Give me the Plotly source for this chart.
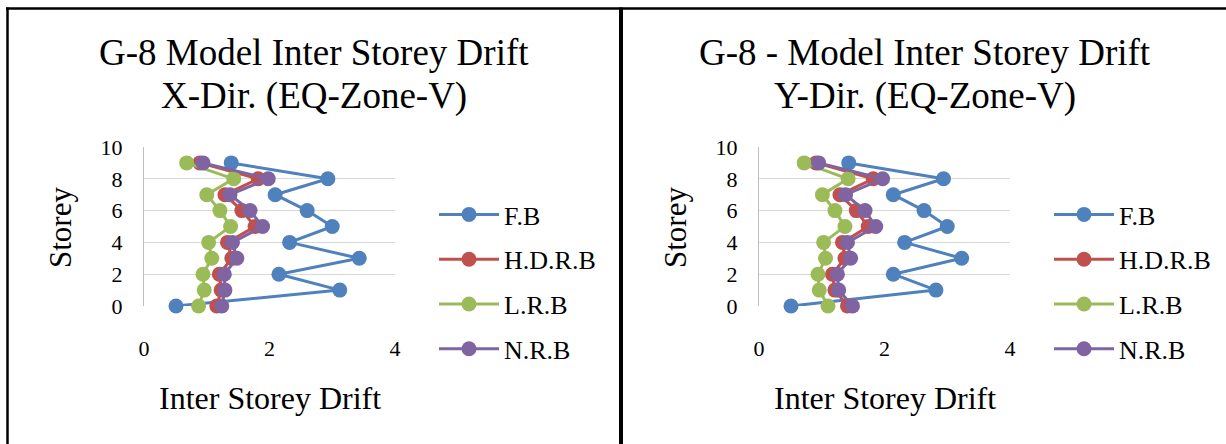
import plotly.graph_objects as go
from plotly.subplots import make_subplots

storeys = [0, 1, 2, 3, 4, 5, 6, 7, 8, 9]
series_names = ["F.B", "H.D.R.B", "L.R.B", "N.R.B"]
colors = ["#4F81BD", "#C0504D", "#9BBB59", "#8064A2"]

# X-direction drift (left chart)
x_fb = [0.51, 3.12, 2.15, 3.43, 2.32, 3.00, 2.60, 2.09, 2.93, 1.39]
x_hdrb = [1.16, 1.23, 1.20, 1.40, 1.33, 1.77, 1.56, 1.29, 1.82, 0.89]
x_lrb = [0.87, 0.96, 0.94, 1.08, 1.03, 1.38, 1.21, 1.00, 1.43, 0.68]
x_nrb = [1.24, 1.29, 1.28, 1.48, 1.41, 1.89, 1.69, 1.37, 1.98, 0.94]

# Y-direction drift (right chart)
y_fb = [0.51, 2.82, 2.14, 3.23, 2.32, 3.00, 2.63, 2.14, 2.94, 1.43]
y_hdrb = [1.41, 1.21, 1.17, 1.37, 1.33, 1.74, 1.55, 1.29, 1.82, 0.91]
y_lrb = [1.10, 0.96, 0.94, 1.06, 1.03, 1.37, 1.21, 1.01, 1.42, 0.72]
y_nrb = [1.49, 1.27, 1.25, 1.46, 1.41, 1.86, 1.69, 1.38, 1.97, 0.95]

titles_line1 = ["G-8 Model Inter Storey Drift", "G-8 - Model Inter Storey Drift"]
titles_line2 = ["X-Dir. (EQ-Zone-V)", "Y-Dir. (EQ-Zone-V)"]
x_title = "Inter Storey Drift"
y_title = "Storey"

W, H = 1226, 444
FONT = "Liberation Serif"

fig = make_subplots(rows=1, cols=2)

panels = [[x_fb, x_hdrb, x_lrb, x_nrb], [y_fb, y_hdrb, y_lrb, y_nrb]]
for p, data in enumerate(panels):
    for i, vals in enumerate(data):
        fig.add_trace(
            go.Scatter(
                x=vals, y=storeys, name=series_names[i], mode="lines+markers",
                line=dict(color=colors[i], width=3),
                marker=dict(color=colors[i], size=15),
                cliponaxis=False,
                legend="legend" if p == 0 else "legend2",
                legendgroup=f"g{p}{i}",
            ),
            row=1, col=p + 1,
        )

def px_x(v):
    return v / W

def px_y(v):
    return 1 - v / H

plot_left = [144, 759]
plot_w = 251
plot_top, plot_bot = 147, 306

axis_common = dict(
    range=[0, 4], dtick=2, showgrid=False, zeroline=False, showline=False,
    ticks="", tickfont=dict(family=FONT, size=22, color="#000"),
    ticklabelstandoff=27, automargin=False,
)
yaxis_common = dict(
    range=[0, 10], dtick=2, showgrid=True, gridcolor="#D9D9D9", gridwidth=1,
    zeroline=False, showline=True, linecolor="#BFBFBF", linewidth=1,
    ticks="", tickfont=dict(family=FONT, size=22, color="#000"),
    ticklabelstandoff=16, automargin=False,
)

fig.update_layout(
    xaxis=dict(domain=[px_x(plot_left[0]), px_x(plot_left[0] + plot_w)], **axis_common),
    xaxis2=dict(domain=[px_x(plot_left[1]), px_x(plot_left[1] + plot_w)], **axis_common),
    yaxis=dict(domain=[px_y(plot_bot), px_y(plot_top)], **yaxis_common),
    yaxis2=dict(domain=[px_y(plot_bot), px_y(plot_top)], **yaxis_common),
)

legend_common = dict(
    font=dict(family=FONT, size=26, color="#000"),
    tracegroupgap=8, itemwidth=60, bgcolor="rgba(0,0,0,0)",
    xanchor="left", yanchor="top",
)
fig.update_layout(
    legend=dict(x=px_x(434), y=px_y(191), **legend_common),
    legend2=dict(x=px_x(1049), y=px_y(191), **legend_common),
)

annotations = []
centers = [314, 925]
for p in range(2):
    annotations.append(dict(
        text=titles_line1[p], x=px_x(centers[p]), y=px_y(52), xref="paper", yref="paper",
        showarrow=False, xanchor="center", yanchor="middle",
        font=dict(family=FONT, size=37, color="#000")))
    annotations.append(dict(
        text=titles_line2[p], x=px_x(centers[p]), y=px_y(96), xref="paper", yref="paper",
        showarrow=False, xanchor="center", yanchor="middle",
        font=dict(family=FONT, size=37, color="#000")))
    annotations.append(dict(
        text=x_title, x=px_x(plot_left[p] + plot_w / 2), y=px_y(398), xref="paper", yref="paper",
        showarrow=False, xanchor="center", yanchor="middle",
        font=dict(family=FONT, size=32, color="#000")))
    annotations.append(dict(
        text=y_title, x=px_x(plot_left[p] - 84), y=px_y(228), xref="paper", yref="paper",
        showarrow=False, xanchor="center", yanchor="middle", textangle=-90,
        font=dict(family=FONT, size=31, color="#000")))

shapes = [
    dict(type="line", xref="paper", yref="paper", x0=px_x(6), x1=1, y0=px_y(8.5), y1=px_y(8.5),
         line=dict(color="#000", width=2.5)),
    dict(type="line", xref="paper", yref="paper", x0=px_x(7.5), x1=px_x(7.5), y0=px_y(7.5), y1=0,
         line=dict(color="#000", width=2.5)),
    dict(type="line", xref="paper", yref="paper", x0=px_x(621), x1=px_x(621), y0=px_y(7.5), y1=0,
         line=dict(color="#000", width=4)),
]

fig.update_layout(
    width=W, height=H, margin=dict(l=0, r=0, t=0, b=0, pad=0, autoexpand=False),
    paper_bgcolor="#FFFFFF", plot_bgcolor="#FFFFFF",
    annotations=annotations, shapes=shapes,
    font=dict(family=FONT, color="#000"),
)

fig.write_html("out.html")
